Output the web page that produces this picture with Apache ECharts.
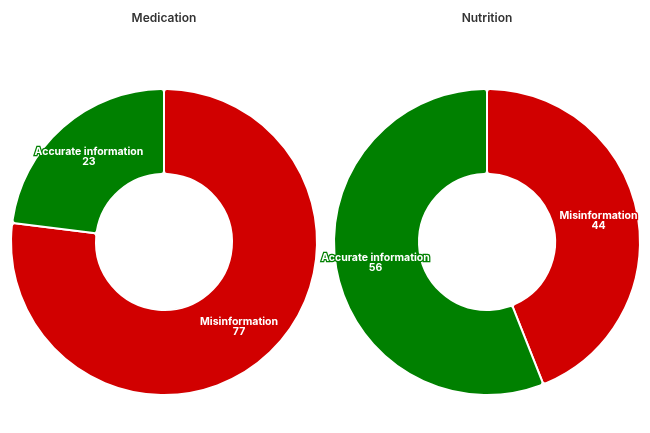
<!DOCTYPE html>
<html><head><meta charset="utf-8">
<script src="https://cdn.jsdelivr.net/npm/echarts@6/dist/echarts.min.js"></script>
<style>html,body{margin:0;padding:0;background:#fff}#c{width:650px;height:433px}</style>
</head><body><div id="c"></div>
<script>
const panels = ["Medication", "Nutrition"];
const categories = ["Misinformation", "Accurate information"];
const medicationValues = [77, 23];
const nutritionValues = [44, 56];
const colors = ["#d10000", "#008000"];

const chart = echarts.init(document.getElementById('c'));
const centers = [[164, 242], [487, 242]];
const valuesList = [medicationValues, nutritionValues];
const series = valuesList.map((vals, i) => ({
  type: 'pie',
  center: centers[i],
  radius: [68, 153],
  startAngle: 90,
  clockwise: true,
  avoidLabelOverlap: false,
  itemStyle: { borderColor: '#fff', borderWidth: 2, borderRadius: 3 },
  label: {
    show: true,
    position: 'inside',
    formatter: p => p.name + '\n' + p.value,
    color: '#fff',
    fontFamily: 'Inter',
    fontWeight: 'bold',
    fontSize: 10.5,
    lineHeight: 10,
    textBorderWidth: 2.5
  },
  labelLine: { show: false },
  data: categories.map((c, j) => ({ name: c, value: vals[j], itemStyle: { color: colors[j] }, label: { textBorderColor: colors[j] } }))
}));
chart.setOption({
  animation: false,
  title: panels.map((t, i) => ({
    text: t, left: centers[i][0] - 5, top: 7, textAlign: 'center',
    textStyle: { fontFamily: 'Inter', fontSize: 12, fontWeight: 600, color: '#333' }
  })),
  series
});
</script></body></html>
